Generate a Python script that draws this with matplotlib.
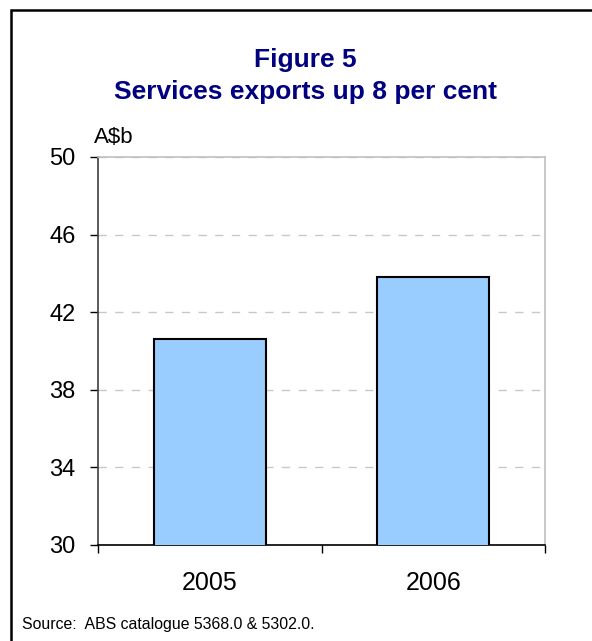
import matplotlib.pyplot as plt
from matplotlib.patches import Rectangle

years = ["2005", "2006"]
exports = [40.6, 43.8]
yticks = [30, 34, 38, 42, 46, 50]

W, H = 592, 641
fig = plt.figure(figsize=(W / 100, H / 100), dpi=100)
plt.rcParams["font.family"] = ["Liberation Sans", "DejaVu Sans"]

# outer frame (runs off the right and bottom edges)
fig.patches.append(Rectangle((11 / W, -0.05), 1.2, 1 - 10 / H + 0.05,
                             transform=fig.transFigure, fill=False,
                             edgecolor="black", linewidth=1.8))

ax = fig.add_axes([98 / W, 1 - 545 / H, (545 - 98) / W, (545 - 157) / H])
x = range(len(years))
ax.bar(x, exports, width=0.5, color="#99ccff", edgecolor="black", linewidth=1.5, zorder=3)
ax.set_xlim(-0.5, 1.5)
ax.set_ylim(30, 50)
ax.set_yticks(yticks)
ax.set_yticklabels([str(v) for v in yticks], fontsize=17)
ax.set_xticks([-0.5, 0.5, 1.5])
ax.set_xticklabels([])
ax.set_xticks(list(x), minor=True)
ax.set_xticklabels(years, minor=True, fontsize=18)
ax.tick_params(axis="x", which="minor", length=0, pad=19)
ax.tick_params(axis="x", which="major", direction="out", length=6, width=1)
ax.tick_params(axis="y", direction="out", length=6, width=1, pad=10)
ax.grid(axis="y", color="#c8c8c8", linestyle=(0, (6, 6)), linewidth=1, zorder=0)
ax.spines["top"].set_color("#c0c0c0")
ax.spines["right"].set_color("#c0c0c0")
ax.spines["left"].set_color("#404040")
ax.spines["bottom"].set_color("black")
for s in ax.spines.values():
    s.set_linewidth(1.2)

fig.text(305 / W, 1 - 67 / H, "Figure 5", ha="center", va="baseline",
         fontsize=19, fontweight="bold", color="#000080")
fig.text(305 / W, 1 - 99 / H, "Services exports up 8 per cent", ha="center", va="baseline",
         fontsize=19, fontweight="bold", color="#000080")
fig.text(94 / W, 1 - 143 / H, "A$b", ha="left", va="baseline", fontsize=16)
fig.text(22 / W, 1 - 629 / H, "Source:  ABS catalogue 5368.0 & 5302.0.", ha="left",
         va="baseline", fontsize=11.4)

fig.savefig("out.png", dpi=100)
